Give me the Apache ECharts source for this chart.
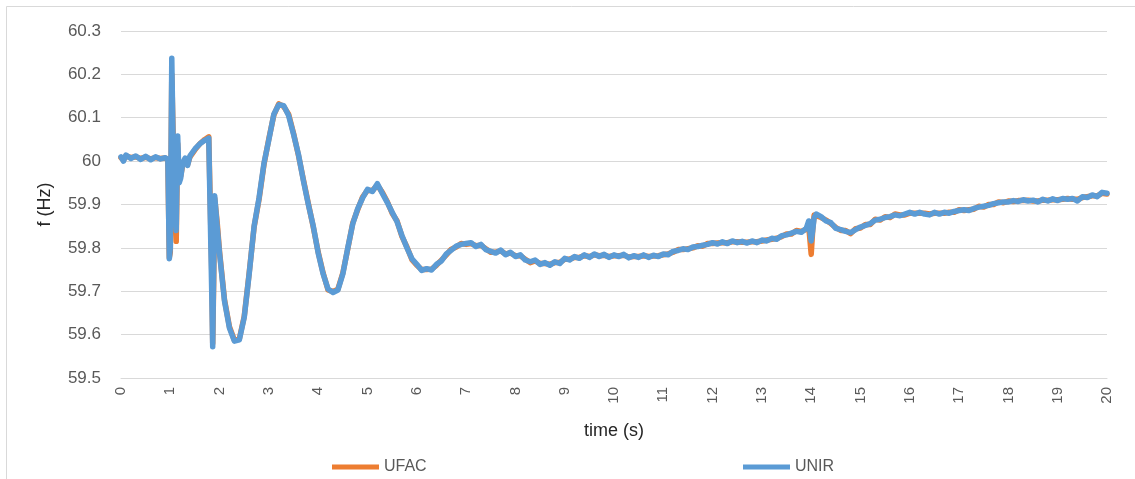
<!DOCTYPE html>
<html><head><meta charset="utf-8">
<script src="https://cdn.jsdelivr.net/npm/echarts@6/dist/echarts.min.js"></script>
<style>html,body{margin:0;padding:0;background:#fff}#c{width:1135px;height:479px}</style>
</head><body><div id="c"></div>
<script>
const xTicks = [0,1,2,3,4,5,6,7,8,9,10,11,12,13,14,15,16,17,18,19,20];
const yTicks = [59.5,59.6,59.7,59.8,59.9,60,60.1,60.2,60.3];
const seriesNames = ['UFAC','UNIR'];

// [time (s), f (Hz)]
const ufac = [
[0,60.008],[0.05,60.002],[0.1,60.012],[0.2,60.008],[0.3,60.010],[0.4,60.006],[0.5,60.009],[0.6,60.005],[0.7,60.008],[0.8,60.006],
[0.9,60.007],[0.95,60.003],[0.98,59.778],[1.0,59.79],[1.03,60.20],[1.06,60.05],[1.09,59.92],[1.12,59.815],[1.15,60.04],[1.18,59.96],
[1.21,59.965],[1.25,59.99],[1.3,60.004],[1.35,59.992],[1.4,60.01],[1.5,60.026],[1.6,60.04],[1.7,60.05],[1.78,60.056],[1.82,60.054],
[1.84,59.75],[1.86,59.58],[1.88,59.72],[1.9,59.915],[1.95,59.86],[2.0,59.79],[2.1,59.68],[2.2,59.618],[2.3,59.587],[2.4,59.59],
[2.5,59.642],[2.6,59.742],[2.7,59.848],[2.8,59.912],[2.9,59.992],[3.0,60.052],[3.1,60.106],[3.2,60.132],[3.3,60.126],[3.4,60.108],
[3.5,60.064],[3.6,60.013],[3.7,59.957],[3.8,59.902],[3.9,59.848],[4.0,59.79],[4.1,59.742],[4.2,59.703],[4.3,59.699],[4.4,59.705],
[4.5,59.742],[4.6,59.798],[4.7,59.857],[4.8,59.888],[4.9,59.917],[5.0,59.933],[5.1,59.932],[5.2,59.945],[5.3,59.928],[5.4,59.907],
[5.5,59.88],[5.6,59.862],[5.7,59.826],[5.8,59.802],[5.9,59.773],[6.0,59.76],[6.1,59.75],[6.2,59.75],[6.3,59.751],[6.4,59.76],
[6.5,59.772],[6.6,59.784],[6.7,59.797],[6.8,59.802],[6.9,59.81],[7.0,59.808],[7.1,59.81],[7.2,59.805],[7.3,59.806],[7.4,59.798],
[7.5,59.79],[7.6,59.79],[7.7,59.793],[7.8,59.786],[7.9,59.788],[8.0,59.782],[8.1,59.782],[8.2,59.774],[8.3,59.766],[8.4,59.77],
[8.5,59.764],[8.6,59.764],[8.7,59.762],[8.8,59.766],[8.9,59.766],[9.0,59.774],[9.1,59.774],[9.2,59.778],[9.3,59.778],[9.4,59.782],
[9.5,59.78],[9.6,59.784],[9.7,59.782],[9.8,59.783],[9.9,59.78],[10.0,59.782],[10.1,59.782],[10.2,59.783],[10.3,59.779],[10.4,59.78],
[10.5,59.78],[10.6,59.782],[10.7,59.78],[10.8,59.781],[10.9,59.782],[11.0,59.784],[11.1,59.786],[11.2,59.79],[11.3,59.796],[11.4,59.796],
[11.5,59.798],[11.6,59.8],[11.7,59.805],[11.8,59.804],[11.9,59.81],[12.0,59.81],[12.1,59.811],[12.2,59.812],[12.3,59.812],[12.4,59.814],
[12.5,59.814],[12.6,59.813],[12.7,59.813],[12.8,59.814],[12.9,59.814],[13.0,59.816],[13.1,59.818],[13.2,59.82],[13.3,59.822],[13.4,59.826],
[13.5,59.832],[13.6,59.832],[13.7,59.84],[13.8,59.838],[13.9,59.843],[13.95,59.85],[14.0,59.785],[14.03,59.84],[14.06,59.876],[14.1,59.876],
[14.2,59.87],[14.3,59.864],[14.4,59.856],[14.5,59.847],[14.6,59.84],[14.7,59.84],[14.8,59.833],[14.9,59.844],[15.0,59.846],[15.1,59.854],
[15.2,59.854],[15.3,59.866],[15.4,59.864],[15.5,59.872],[15.6,59.87],[15.7,59.878],[15.8,59.876],[15.9,59.876],[16.0,59.88],[16.1,59.88],
[16.2,59.88],[16.3,59.88],[16.4,59.878],[16.5,59.88],[16.6,59.88],[16.7,59.88],[16.8,59.882],[16.9,59.882],[17.0,59.888],[17.1,59.886],
[17.2,59.888],[17.3,59.889],[17.4,59.896],[17.5,59.894],[17.6,59.9],[17.7,59.9],[17.8,59.906],[17.9,59.904],[18.0,59.908],[18.1,59.907],
[18.2,59.909],[18.3,59.909],[18.4,59.91],[18.5,59.908],[18.6,59.908],[18.7,59.91],[18.8,59.91],[18.9,59.911],[19.0,59.911],[19.1,59.912],
[19.2,59.914],[19.3,59.912],[19.4,59.912],[19.5,59.916],[19.6,59.918],[19.7,59.92],[19.8,59.92],[19.9,59.926],[20.0,59.924]
];
const unir = [
[0,60.010],[0.05,60.000],[0.1,60.014],[0.2,60.006],[0.3,60.012],[0.4,60.004],[0.5,60.011],[0.6,60.003],[0.7,60.010],[0.8,60.005],
[0.9,60.008],[0.95,60.004],[0.98,59.775],[1.0,59.80],[1.03,60.237],[1.06,60.02],[1.09,59.90],[1.12,59.84],[1.15,60.058],[1.18,59.95],
[1.21,59.96],[1.25,59.995],[1.3,60.007],[1.35,59.99],[1.4,60.012],[1.5,60.028],[1.6,60.040],[1.7,60.048],[1.78,60.053],[1.82,60.05],
[1.84,59.70],[1.86,59.572],[1.88,59.75],[1.9,59.92],[1.95,59.85],[2.0,59.786],[2.1,59.677],[2.2,59.615],[2.3,59.585],[2.4,59.588],
[2.5,59.64],[2.6,59.74],[2.7,59.85],[2.8,59.915],[2.9,59.995],[3.0,60.05],[3.1,60.108],[3.2,60.13],[3.3,60.128],[3.4,60.105],
[3.5,60.062],[3.6,60.015],[3.7,59.955],[3.8,59.90],[3.9,59.85],[4.0,59.788],[4.1,59.74],[4.2,59.705],[4.3,59.697],[4.4,59.703],
[4.5,59.74],[4.6,59.80],[4.7,59.855],[4.8,59.89],[4.9,59.915],[5.0,59.935],[5.1,59.93],[5.2,59.948],[5.3,59.926],[5.4,59.905],
[5.5,59.882],[5.6,59.86],[5.7,59.828],[5.8,59.80],[5.9,59.775],[6.0,59.762],[6.1,59.748],[6.2,59.752],[6.3,59.749],[6.4,59.762],
[6.5,59.77],[6.6,59.786],[6.7,59.795],[6.8,59.804],[6.9,59.808],[7.0,59.81],[7.1,59.812],[7.2,59.803],[7.3,59.808],[7.4,59.796],
[7.5,59.792],[7.6,59.788],[7.7,59.795],[7.8,59.784],[7.9,59.79],[8.0,59.78],[8.1,59.784],[8.2,59.772],[8.3,59.768],[8.4,59.772],
[8.5,59.762],[8.6,59.766],[8.7,59.760],[8.8,59.768],[8.9,59.764],[9.0,59.776],[9.1,59.772],[9.2,59.78],[9.3,59.776],[9.4,59.784],
[9.5,59.778],[9.6,59.786],[9.7,59.780],[9.8,59.785],[9.9,59.778],[10.0,59.784],[10.1,59.780],[10.2,59.785],[10.3,59.777],[10.4,59.782],
[10.5,59.778],[10.6,59.784],[10.7,59.778],[10.8,59.783],[10.9,59.780],[11.0,59.786],[11.1,59.784],[11.2,59.792],[11.3,59.794],[11.4,59.798],
[11.5,59.796],[11.6,59.802],[11.7,59.803],[11.8,59.806],[11.9,59.808],[12.0,59.812],[12.1,59.809],[12.2,59.814],[12.3,59.81],[12.4,59.816],
[12.5,59.812],[12.6,59.815],[12.7,59.811],[12.8,59.816],[12.9,59.812],[13.0,59.818],[13.1,59.816],[13.2,59.822],[13.3,59.82],[13.4,59.828],
[13.5,59.83],[13.6,59.834],[13.7,59.838],[13.8,59.836],[13.9,59.845],[13.95,59.862],[14.0,59.816],[14.03,59.84],[14.06,59.87],[14.1,59.878],
[14.2,59.872],[14.3,59.862],[14.4,59.858],[14.5,59.845],[14.6,59.842],[14.7,59.838],[14.8,59.835],[14.9,59.842],[15.0,59.848],[15.1,59.852],
[15.2,59.856],[15.3,59.864],[15.4,59.866],[15.5,59.87],[15.6,59.872],[15.7,59.876],[15.8,59.874],[15.9,59.878],[16.0,59.882],[16.1,59.878],
[16.2,59.882],[16.3,59.878],[16.4,59.876],[16.5,59.882],[16.6,59.878],[16.7,59.882],[16.8,59.88],[16.9,59.884],[17.0,59.886],[17.1,59.888],
[17.2,59.886],[17.3,59.891],[17.4,59.894],[17.5,59.896],[17.6,59.898],[17.7,59.902],[17.8,59.904],[17.9,59.906],[18.0,59.906],[18.1,59.909],
[18.2,59.907],[18.3,59.911],[18.4,59.908],[18.5,59.910],[18.6,59.906],[18.7,59.912],[18.8,59.908],[18.9,59.913],[19.0,59.909],[19.1,59.914],
[19.2,59.912],[19.3,59.914],[19.4,59.908],[19.5,59.918],[19.6,59.916],[19.7,59.922],[19.8,59.918],[19.9,59.928],[20.0,59.926]
];

const chart = echarts.init(document.getElementById('c'), null, {renderer:'canvas'});
const FONT = 'Liberation Sans';
chart.setOption({
  animation:false,
  backgroundColor:'#fff',
  textStyle:{fontFamily:FONT},
  graphic:[{type:'rect',shape:{x:6.5,y:6.5,width:1140,height:480},style:{fill:'none',stroke:'#d9d9d9',lineWidth:1},silent:true,z:-1}],
  grid:{left:121,right:28,top:31,bottom:101},
  legend:[
    {data:[seriesNames[0]],left:327,top:454,itemWidth:47,itemHeight:5,icon:'rect',itemGap:4,
     textStyle:{fontSize:16,color:'#595959',fontFamily:FONT}},
    {data:[seriesNames[1]],left:738,top:454,itemWidth:47,itemHeight:5,icon:'rect',itemGap:4,
     textStyle:{fontSize:16,color:'#595959',fontFamily:FONT}}
  ],
  xAxis:{type:'value',min:xTicks[0],max:xTicks[xTicks.length-1],interval:1,
    name:'time (s)',nameLocation:'middle',nameGap:44,
    nameTextStyle:{fontSize:18,color:'#262626',fontFamily:FONT,verticalAlign:'top'},
    axisLine:{show:true,lineStyle:{color:'#d9d9d9',width:1}},
    axisTick:{show:false},splitLine:{show:false},
    axisLabel:{rotate:90,fontSize:15,color:'#595959',margin:9,fontFamily:FONT,
      formatter:v=>xTicks.includes(v)?String(v):''}},
  yAxis:{type:'value',min:yTicks[0],max:yTicks[yTicks.length-1],interval:0.1,
    name:'f (Hz)',nameLocation:'middle',nameGap:67,
    nameTextStyle:{fontSize:18,color:'#262626',fontFamily:FONT},
    axisLine:{show:false},axisTick:{show:false},
    splitLine:{lineStyle:{color:'#d9d9d9',width:1}},
    axisLabel:{fontSize:17,color:'#595959',margin:20,fontFamily:FONT,
      formatter:v=>String(parseFloat(v.toFixed(1)))}},
  series:[
    {name:seriesNames[0],type:'line',data:ufac,showSymbol:false,symbol:'none',
     lineStyle:{color:'#ED7D31',width:5.5,join:'round',cap:'round'},itemStyle:{color:'#ED7D31'}},
    {name:seriesNames[1],type:'line',data:unir,showSymbol:false,symbol:'none',
     lineStyle:{color:'#5B9BD5',width:5.5,join:'round',cap:'round'},itemStyle:{color:'#5B9BD5'}}
  ]
});
</script></body></html>
